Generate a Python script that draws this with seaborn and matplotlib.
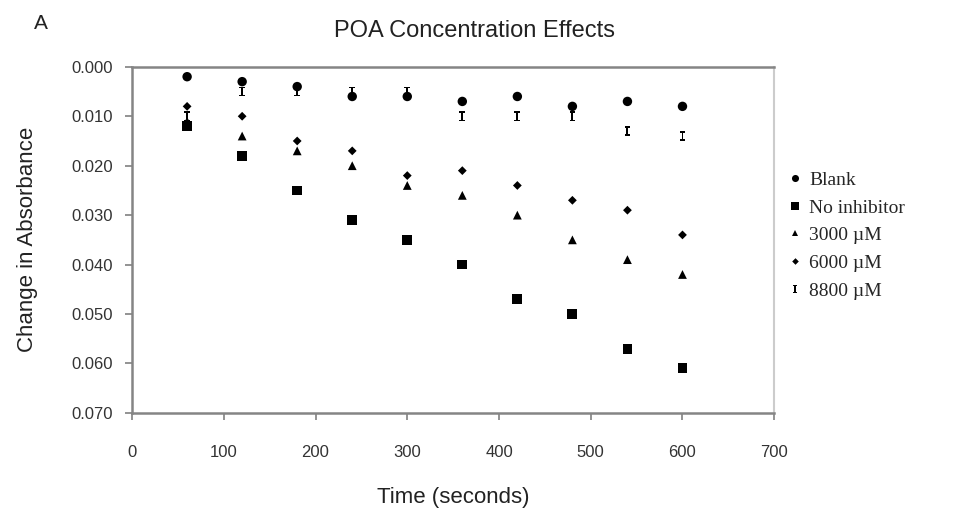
"""
POA concentration effects - change in absorbance over time
"""
import numpy as np
import pandas as pd
import matplotlib
matplotlib.use('Agg')
import matplotlib.pyplot as plt
import seaborn as sns

# data
time_s = [60, 120, 180, 240, 300, 360, 420, 480, 540, 600]
blank = [0.002, 0.003, 0.004, 0.006, 0.006, 0.007, 0.006, 0.008, 0.007, 0.008]
no_inhibitor = [0.012, 0.018, 0.025, 0.031, 0.035, 0.040, 0.047, 0.050, 0.057, 0.061]
conc_3000 = [0.011, 0.014, 0.017, 0.020, 0.024, 0.026, 0.030, 0.035, 0.039, 0.042]
conc_6000 = [0.008, 0.010, 0.015, 0.017, 0.022, 0.021, 0.024, 0.027, 0.029, 0.034]
conc_8800 = [0.010, 0.005, 0.005, 0.005, 0.005, 0.010, 0.010, 0.010, 0.013, 0.014]

series_names = ['Blank', 'No inhibitor', '3000 \u00b5M', '6000 \u00b5M', '8800 \u00b5M']
series_values = [blank, no_inhibitor, conc_3000, conc_6000, conc_8800]

x_ticks = [0, 100, 200, 300, 400, 500, 600, 700]
y_ticks = [0.000, 0.010, 0.020, 0.030, 0.040, 0.050, 0.060, 0.070]

# long form table for seaborn
rows = []
for name, vals in zip(series_names, series_values):
    for t, v in zip(time_s, vals):
        rows.append({'Time': t, 'Change': v, 'Series': name})
data = pd.DataFrame(rows)

sns.set_style('white')
plt.rcParams['font.family'] = ['Liberation Sans', 'DejaVu Sans']

# I-beam shaped marker for the highest concentration
i_beam = [(-0.6, 1), (0.6, 1), (0.6, 0.7), (0.2, 0.7), (0.2, -0.7), (0.6, -0.7),
          (0.6, -1), (-0.6, -1), (-0.6, -0.7), (-0.2, -0.7), (-0.2, 0.7), (-0.6, 0.7)]

markers = {
    'Blank': 'o',
    'No inhibitor': 's',
    '3000 \u00b5M': '^',
    '6000 \u00b5M': 'D',
    '8800 \u00b5M': i_beam,
}
sizes = {
    'Blank': 46,
    'No inhibitor': 50,
    '3000 \u00b5M': 40,
    '6000 \u00b5M': 20,
    '8800 \u00b5M': 48,
}
palette = {name: 'black' for name in series_names}

fig = plt.figure(figsize=(9.57, 5.22), dpi=100)
ax = fig.add_axes([0.138, 0.209, 0.671, 0.663])

sns.scatterplot(data=data, x='Time', y='Change', hue='Series', style='Series',
                size='Series', sizes=sizes, markers=markers, palette=palette,
                hue_order=series_names, style_order=series_names,
                size_order=series_names, linewidth=0, ax=ax)

ax.set_xlim(0, 700)
ax.set_ylim(0.070, 0.000)
ax.set_xticks(x_ticks)
ax.set_yticks(y_ticks)
ax.set_yticklabels(['{:.3f}'.format(v) for v in y_ticks])

ax.tick_params(axis='both', direction='out', length=5, width=1.2, color='#808080',
               labelsize=12, labelcolor='#333333', left=True, bottom=True)
ax.tick_params(axis='x', pad=18)
ax.tick_params(axis='y', pad=9)

for side in ['left', 'top', 'bottom']:
    ax.spines[side].set_color('#858585')
    ax.spines[side].set_linewidth(1.8)
ax.spines['right'].set_color('#cccccc')
ax.spines['right'].set_linewidth(1.5)

ax.set_xlabel('Time (seconds)', fontsize=16, color='#222222')
ax.set_ylabel('Change in Absorbance', fontsize=16, color='#222222')
ax.xaxis.set_label_coords(0.5, -0.215)
ax.yaxis.set_label_coords(-0.146, 0.5)

fig.text(0.496, 0.94, 'POA Concentration Effects', ha='center', va='center',
         fontsize=17, color='#222222')
fig.text(0.035, 0.955, 'A', ha='left', va='center', fontsize=15, color='#222222')

handles, labels = ax.get_legend_handles_labels()
ax.legend(handles, labels, loc='upper left', bbox_to_anchor=(0.823, 0.672),
          bbox_transform=fig.transFigure, frameon=False, handlelength=0.8,
          handletextpad=0.3, labelspacing=0.52, borderaxespad=0, borderpad=0,
          prop={'family': 'Liberation Serif', 'size': 14}, markerscale=0.75)

fig.savefig('out.png', dpi=100)
